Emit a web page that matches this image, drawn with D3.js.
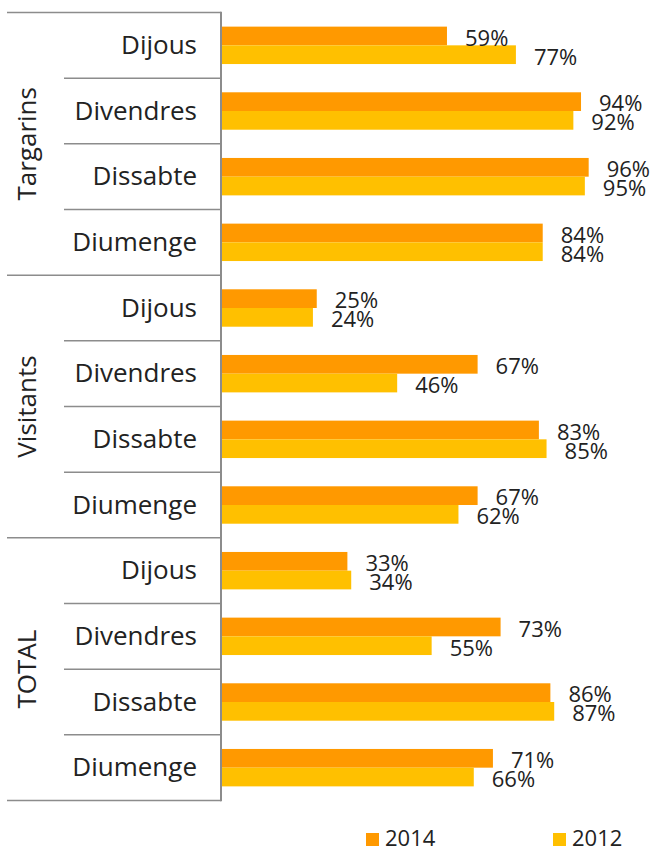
<!DOCTYPE html>
<html>
<head>
<meta charset="utf-8">
<script src="https://cdn.jsdelivr.net/npm/d3@7"></script>
<style>
  html, body { margin: 0; padding: 0; background: #fff; }
  svg { display: block; }
  text { font-family: "Open Sans", "DejaVu Sans", sans-serif; fill: #222; }
</style>
</head>
<body>
<svg id="chart" width="651" height="851"></svg>
<script>
// ---- data ----
const groups = ["Targarins", "Visitants", "TOTAL"];
const days = ["Dijous", "Divendres", "Dissabte", "Diumenge"];
const seriesNames = ["2014", "2012"];
const values2014 = [59, 94, 96, 84, 25, 67, 83, 67, 33, 73, 86, 71];
const values2012 = [77, 92, 95, 84, 24, 46, 85, 62, 34, 55, 87, 66];
const colors = ["#FF9900", "#FFC000"];

// ---- build rows ----
const rows = [];
groups.forEach((g, gi) => {
  days.forEach((d, di) => {
    const i = gi * days.length + di;
    rows.push({ id: g + "|" + d, group: g, day: d, vals: [values2014[i], values2012[i]] });
  });
});

const svg = d3.select("#chart");

const plotTop = 12.5, plotBottom = 800.5, axisX = 221;
const y0 = d3.scaleBand().domain(rows.map(r => r.id)).range([plotTop, plotBottom]).padding(0);
const y1 = d3.scaleBand().domain(seriesNames).range([0, y0.bandwidth()])
  .paddingInner(0).paddingOuter(0.755);
const x = d3.scaleLinear().domain([0, 100]).range([axisX, 604]);

// ---- bars ----
const rowG = svg.append("g").selectAll("g").data(rows).join("g")
  .attr("transform", r => `translate(0,${y0(r.id)})`);

rowG.selectAll("rect").data(r => r.vals.map((v, k) => ({ v, k, s: seriesNames[k] })))
  .join("rect")
  .attr("x", x(0))
  .attr("y", d => y1(d.s))
  .attr("width", d => x(d.v) - x(0))
  .attr("height", y1.bandwidth())
  .attr("fill", d => colors[d.k]);

// ---- value labels ----
rowG.selectAll("text.val").data(r => r.vals.map((v, k) => ({ v, k, s: seriesNames[k] })))
  .join("text")
  .attr("class", "val")
  .attr("x", d => x(d.v) + 18)
  .attr("y", d => y1(d.s) + y1.bandwidth() / 2 + 2 + 0.357 * 22)
  .attr("font-size", 22)
  .text(d => d.v + "%");

// ---- category axis lines ----
const lineColor = "#8c8c8c";
const boundaries = rows.map((r, i) => ({ y: y0(r.id), groupStart: i % days.length === 0 }));
boundaries.push({ y: plotBottom, groupStart: true });

svg.append("g").selectAll("line").data(boundaries).join("line")
  .attr("x1", d => d.groupStart ? 7 : 64)
  .attr("x2", axisX)
  .attr("y1", d => d.y)
  .attr("y2", d => d.y)
  .attr("stroke", lineColor)
  .attr("stroke-width", 1.5);

svg.append("line")
  .attr("x1", axisX).attr("x2", axisX)
  .attr("y1", plotTop - 0.75).attr("y2", plotBottom + 0.75)
  .attr("stroke", lineColor).attr("stroke-width", 2);

// ---- category labels ----
svg.append("g").selectAll("text").data(rows).join("text")
  .attr("x", 197)
  .attr("y", r => y0(r.id) + y0.bandwidth() / 2 + 8.5)
  .attr("text-anchor", "end")
  .attr("font-size", 26)
  .text(r => r.day);

// ---- group labels ----
svg.append("g").selectAll("text").data(groups).join("text")
  .attr("transform", (g) => {
    const first = y0(g + "|" + days[0]);
    const last = y0(g + "|" + days[days.length - 1]) + y0.bandwidth();
    return `translate(36,${(first + last) / 2}) rotate(-90)`;
  })
  .attr("text-anchor", "middle")
  .attr("font-size", 26)
  .text(g => g);

// ---- legend ----
const legendX = [366, 553];
const leg = svg.append("g").selectAll("g").data(seriesNames).join("g")
  .attr("transform", (s, i) => `translate(${legendX[i]},833)`);
leg.append("rect").attr("width", 13).attr("height", 13).attr("fill", (s, i) => colors[i]);
leg.append("text").attr("x", 19).attr("y", 13).attr("font-size", 22).text(s => s);
</script>
</body>
</html>
